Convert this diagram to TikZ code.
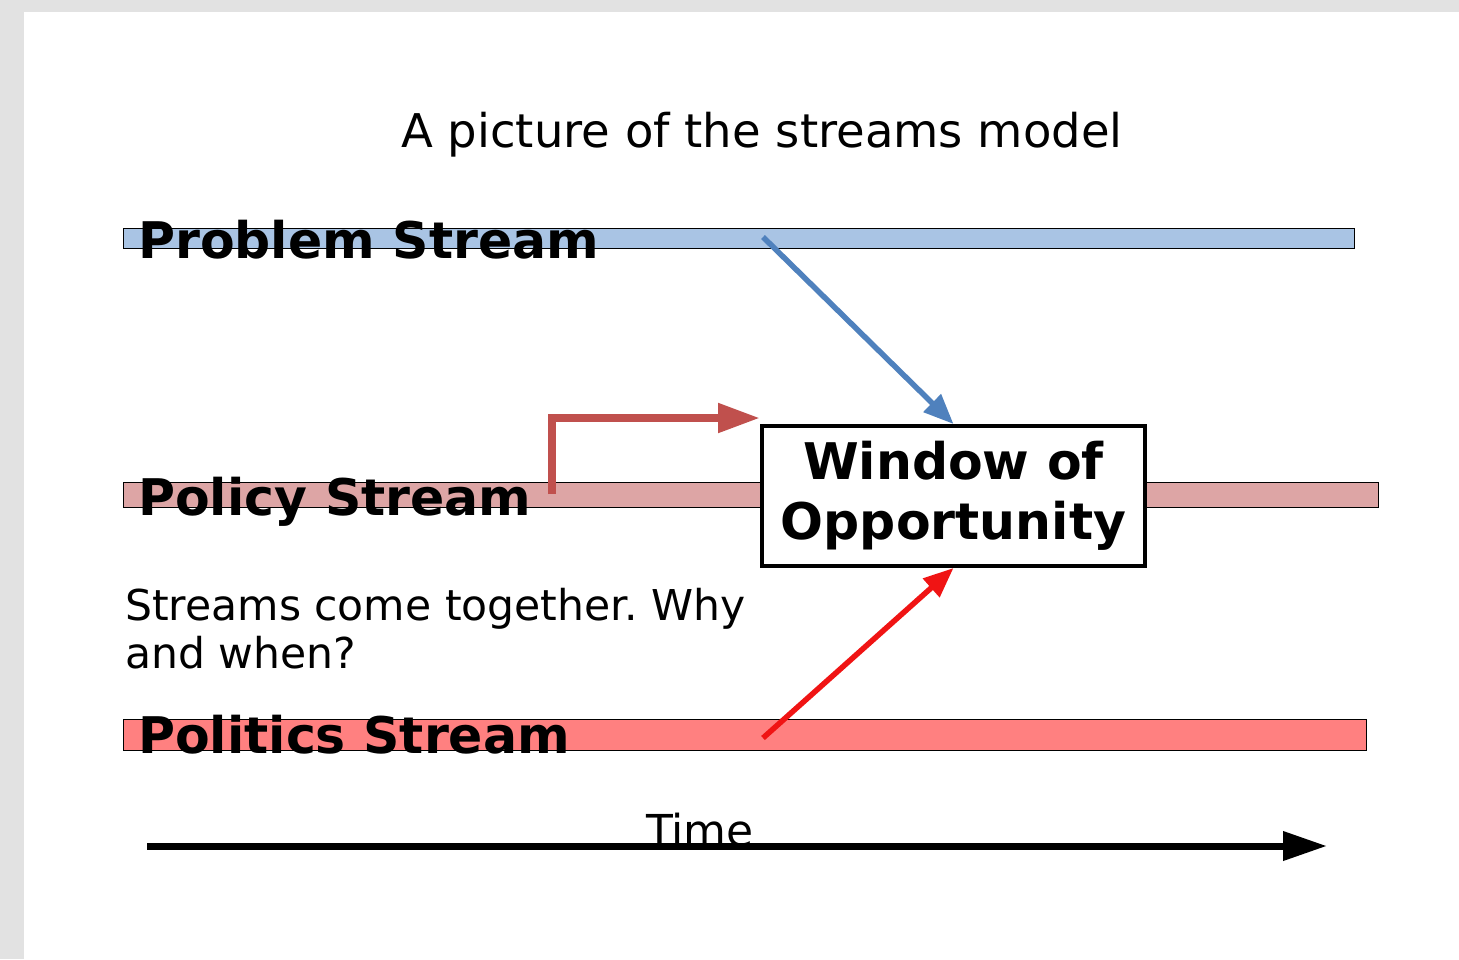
\documentclass[tikz,border=0pt]{standalone}
\usepackage{fontspec}
\setmainfont{DejaVu Sans}
\usetikzlibrary{arrows.meta,calc}
\frenchspacing

\definecolor{probfill}{RGB}{169,196,228}
\definecolor{polfill}{RGB}{221,165,165}
\definecolor{polifill}{RGB}{255,128,128}
\definecolor{probarrow}{RGB}{79,129,189}
\definecolor{polarrow}{RGB}{192,80,77}
\definecolor{poliarrow}{RGB}{240,20,20}
\definecolor{paper}{RGB}{226,226,226}

\tikzset{
  bar/.style={draw=black, line width=1pt},
  streamlabel/.style={anchor=base west, inner sep=0pt, font=\bfseries\fontsize{50.5}{58}\selectfont},
  plain/.style={inner sep=0pt, font=\fontsize{42.5}{48}\selectfont},
  joinarrow/.style={line width=5.5pt, -{Triangle[length=30pt,width=24pt]}}
}

\begin{document}
\begin{tikzpicture}[x=1pt,y=-1pt]

% Page
\fill[paper] (0,0) rectangle (1459,959);
\fill[white] (24,12) rectangle (1459,959);
\useasboundingbox (0,0) rectangle (1459,959);

% Title
\node[plain, anchor=base, font=\fontsize{46.5}{52}\selectfont] (title) at (762,147) {A picture of the streams model};

% Streams
\draw[bar, fill=probfill] (123,228) rectangle (1354,248);
\draw[bar, fill=polfill] (123,482) rectangle (1378,507);
\draw[bar, fill=polifill] (123,719) rectangle (1366,750);
\coordinate (probstart) at (763,237);
\coordinate (polstart) at (552,494);
\coordinate (polend) at (760,418);
\coordinate (polistart) at (763,738);

% Window
\node[draw, line width=4pt, fill=white, minimum width=383, minimum height=140,
  align=center, inner sep=0pt, font=\bfseries\fontsize{50.5}{60}\selectfont]
  (window) at (953.5,496) {Window of\\Opportunity};

% Arrows into the window
\draw[joinarrow, probarrow] (probstart) -- (window.north);
\draw[polarrow, line width=8pt, -{Triangle[length=42pt,width=28pt]}]
  (polstart) |- (polend);
\draw[joinarrow, poliarrow] (polistart) -- (window.south);

% Stream names
\node[streamlabel] (problem) at (138,258) {Problem Stream};
\node[streamlabel] (policy) at (138,515) {Policy Stream};
\node[streamlabel] (politics) at (138,753) {Politics Stream};

% Note
\node[plain, anchor=base west, align=left] (note) at (125,668)
  {Streams come together. Why\\and when?};

% Time axis
\coordinate (tstart) at (147,846);
\coordinate (tend) at (1327,846);
\draw[line width=7pt, -{Triangle[length=44pt,width=28pt]}] (tstart) -- (tend);
\node[plain, anchor=base, font=\fontsize{44}{50}\selectfont] (time) at (700,846) {Time};

\end{tikzpicture}
\end{document}
